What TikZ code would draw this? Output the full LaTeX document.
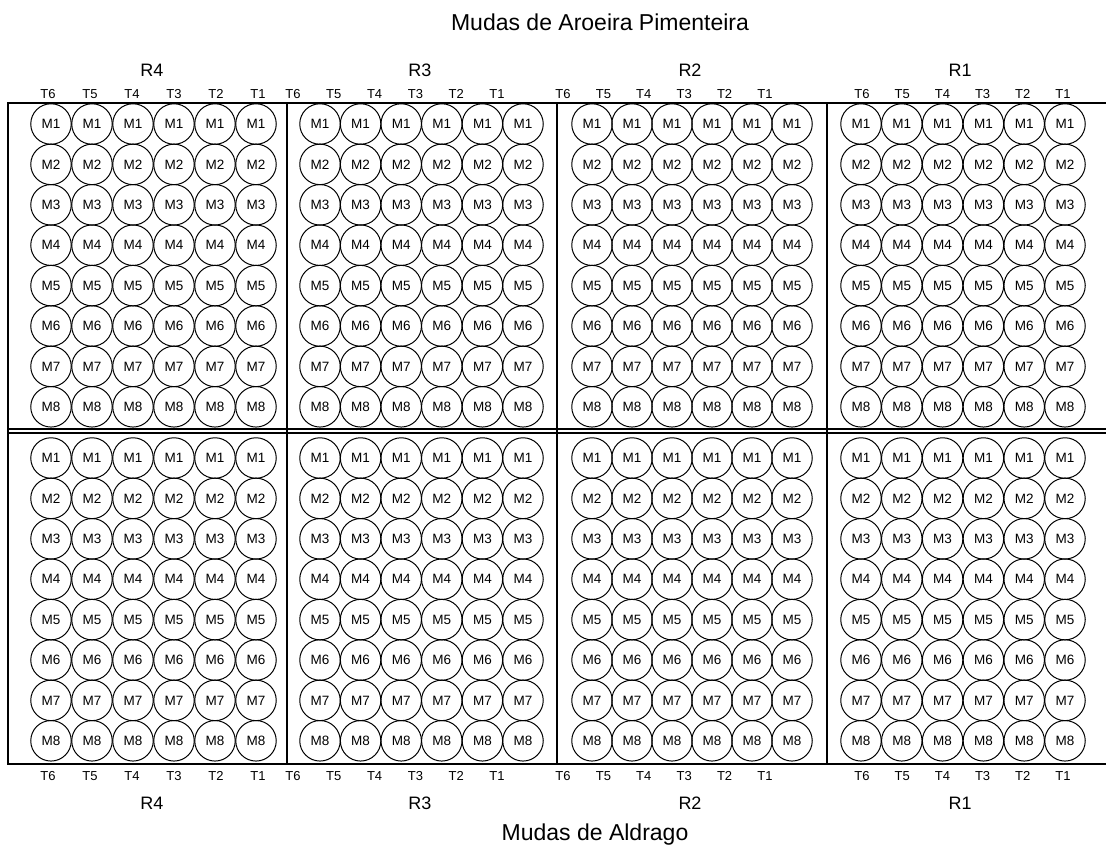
\documentclass[tikz,border=0pt]{standalone}
\usepackage{fontspec}
\setmainfont{Liberation Sans}
\usetikzlibrary{positioning}

\begin{document}
\begin{tikzpicture}[x=1pt,y=-1pt,
 muda/.style={circle,draw,line width=1pt,minimum size=40.5pt,inner sep=0pt,font=\fontsize{13.5}{13.5}\selectfont},
 trat/.style={font=\fontsize{13}{13}\selectfont},
 rep/.style={font=\fontsize{18}{18}\selectfont},
 titulo/.style={font=\fontsize{23}{23}\selectfont,anchor=base}]
\useasboundingbox (0,0) rectangle (1106,844);
% moldura e divisoes
\draw[line width=1.3pt] (1106,103) -- (8,103) -- (8,764) -- (1106,764);
\draw[line width=1.1pt] (8,429) -- (1106,429) (8,433) -- (1106,433);
\foreach \x in {287,557,827} \draw[line width=1.1pt] (\x,103) -- (\x,764);

\node[titulo] (topo) at (600,30) {Mudas de Aroeira Pimenteira};
\node[titulo] (base) at (595,840) {Mudas de Aldrago};

% blocos: repeticao / x do 1o circulo / passo / x do 1o rotulo / passo / x do R
\foreach \r/\cx/\cp/\lx/\lp/\rx [count=\b] in
  {4/51/41/48/42/152, 3/320/40.6/293/40.8/420, 2/592/40/563/40.4/690, 1/861/40.8/862/40.2/960} {
  \node[rep] (rt\b) at (\rx,70.5) {R\r};
  \node[rep] (rb\b) at (\rx,803) {R\r};
  \foreach \t [evaluate=\t as \tn using int(7-\t)] in {1,...,6} {
    \node[trat] (tt\b-\t) at ({\lx+(\t-1)*\lp},94) {T\tn};
    \node[trat] (tb\b-\t) at ({\lx+(\t-1)*\lp},776) {T\tn};
    \foreach \m in {1,...,8} {
      \node[muda] (a\b-\t-\m) at ({\cx+(\t-1)*\cp},{124+(\m-1)*40.4}) {M\m};
      \node[muda] (d\b-\t-\m) at ({\cx+(\t-1)*\cp},{458+(\m-1)*40.4}) {M\m};
    }
  }
}
\end{tikzpicture}
\end{document}
